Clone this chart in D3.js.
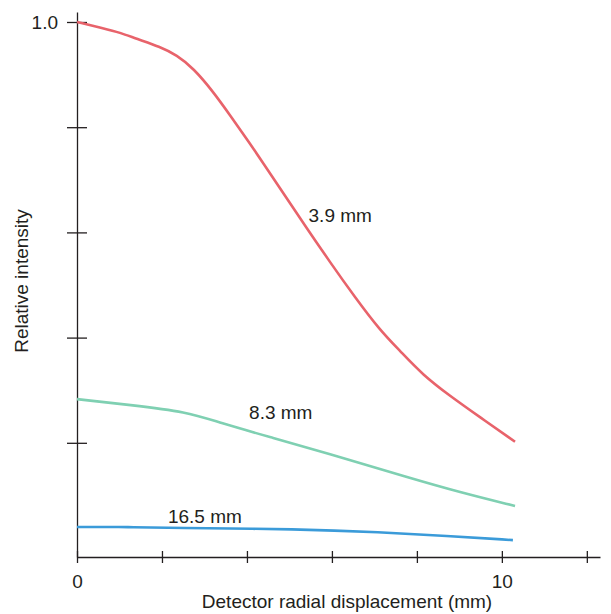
<!DOCTYPE html>
<html>
<head>
<meta charset="utf-8">
<script src="https://cdn.jsdelivr.net/npm/d3@7"></script>
<style>
  body { margin: 0; background: #fff; }
  svg text { font-family: "Liberation Sans", Arial, sans-serif; fill: #231f20; }
</style>
</head>
<body>
<div id="chart"></div>
<script>
// data (x in mm, relative intensity)
const redX   = [0, 0.62, 1.01, 1.40, 1.95, 2.35, 2.74, 3.21, 3.60, 4.07, 4.38, 4.85, 5.41, 5.95, 6.54, 7.13, 7.60, 8.14, 8.78, 9.48, 10.31];
const redY   = [1.0, 0.988, 0.980, 0.968, 0.953, 0.937, 0.912, 0.867, 0.823, 0.769, 0.732, 0.675, 0.608, 0.544, 0.477, 0.414, 0.375, 0.329, 0.289, 0.249, 0.202];
const greenX = [0, 1.25, 2.59, 3.36, 4.54, 6.19, 7.76, 9.01, 10.31];
const greenY = [0.283, 0.272, 0.259, 0.238, 0.211, 0.173, 0.135, 0.106, 0.080];
const blueX  = [0, 1.25, 2.2, 5.25, 7.13, 8.7, 10.26];
const blueY  = [0.040, 0.040, 0.038, 0.036, 0.030, 0.023, 0.015];

const seriesNames = ['3.9 mm', '8.3 mm', '16.5 mm'];
const xTicks = [0, 2, 4, 6, 8, 10, 12];
const xTickLabels = {0: '0', 10: '10'};
const yTicks = [0.2, 0.4, 0.6, 0.8, 1.0];
const yTickLabels = {1: '1.0'};

const colors = ['#e8636b', '#7fd0b2', '#3b9bd9'];

const width = 611, height = 614;
const svg = d3.select('#chart').append('svg')
  .attr('width', width).attr('height', height);

const x = d3.scaleLinear().domain([0, 12.31]).range([77, 600]);
const y = d3.scaleLinear().domain([-0.0171, 1.019]).range([557, 12]);

// axes
const xAxis = d3.axisBottom(x).tickValues(xTicks).tickSizeInner(6).tickSizeOuter(0)
  .tickFormat(d => xTickLabels[d] || '');
const gx = svg.append('g').attr('transform', 'translate(0,' + y.range()[0] + ')').call(xAxis);
gx.selectAll('.tick line').attr('y1', -6).attr('y2', 6);
gx.selectAll('.tick text').attr('y', 18).attr('dy', '0.71em');

const yAxis = d3.axisLeft(y).tickValues(yTicks).tickSizeInner(10).tickSizeOuter(0)
  .tickFormat(d => yTickLabels[d] || '');
const gy = svg.append('g').attr('transform', 'translate(' + x.range()[0] + ',0)').call(yAxis);
gy.selectAll('.tick line').attr('x1', -10).attr('x2', 10);
gy.selectAll('.tick text').attr('x', -19);

svg.selectAll('.domain, .tick line').attr('stroke', '#231f20').attr('stroke-width', 1.3);
svg.selectAll('.tick text').style('font-size', '19px').attr('fill', '#231f20');

// curves
const line = d3.line().x(d => x(d[0])).y(d => y(d[1])).curve(d3.curveBasis);
const series = [
  d3.zip(redX, redY),
  d3.zip(greenX, greenY),
  d3.zip(blueX, blueY)
];
svg.selectAll('.curve')
  .data(series)
  .enter().append('path')
  .attr('class', 'curve')
  .attr('d', line)
  .attr('fill', 'none')
  .attr('stroke', (d, i) => colors[i])
  .attr('stroke-width', 2.6);

// curve labels
const labelPos = [[5.45, 0.62], [4.05, 0.246], [2.14, 0.047]];
svg.selectAll('.lab')
  .data(seriesNames)
  .enter().append('text')
  .attr('x', (d, i) => x(labelPos[i][0]))
  .attr('y', (d, i) => y(labelPos[i][1]))
  .style('font-size', '19px')
  .text(d => d);

// axis titles
svg.append('text')
  .attr('x', 347).attr('y', 608)
  .attr('text-anchor', 'middle')
  .style('font-size', '19px')
  .text('Detector radial displacement (mm)');

svg.append('text')
  .attr('transform', 'translate(28,281) rotate(-90)')
  .attr('text-anchor', 'middle')
  .style('font-size', '19px')
  .text('Relative intensity');
</script>
</body>
</html>
